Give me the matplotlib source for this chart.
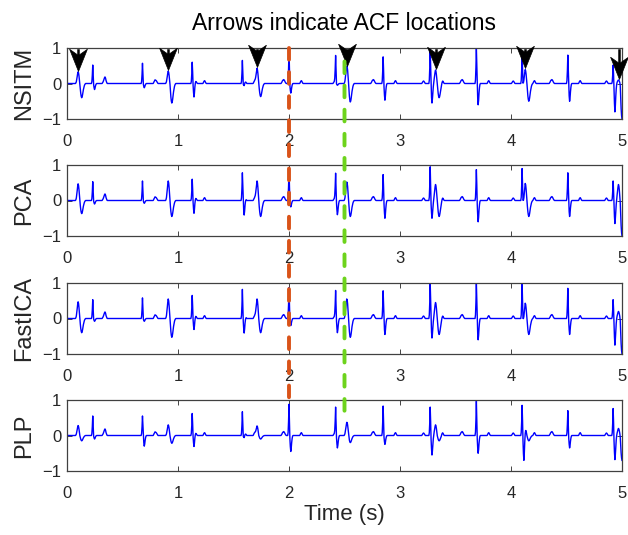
import numpy as np
import matplotlib
matplotlib.use("Agg")
import matplotlib.pyplot as plt
from matplotlib.patches import ConnectionPatch
from matplotlib.path import Path

plt.rcParams['font.family'] = ['Liberation Sans', 'DejaVu Sans']

# ---------------- data ----------------
fs = 250  # samples per second
duration = 5.0

# beat times (s): maternal beats (arrows) and fetal spikes
mother_t = [0.10, 0.91, 1.71, 2.52, 3.32, 4.13, 4.97]
fetal_t = [0.23, 0.68, 1.13, 1.58, 2.00, 2.42, 2.85, 3.27, 3.69, 4.10, 4.51, 4.92]

# hand-drawn beat shapes (peak normalised to +1, trough to -1)
mother_qrs = [0.0, 0.05, 0.15, 0.35, 0.6, 0.85, 1.0, 0.9, 0.65, 0.3, -0.05, -0.4,
              -0.7, -0.9, -1.0, -0.95, -0.8, -0.6, -0.42, -0.28, -0.16, -0.08,
              -0.03, 0.0]
mother_peak_idx = 6
mother_pwave = [0.02, 0.04, 0.06, 0.07, 0.06, 0.04, 0.02]
mother_twave = [0.02, 0.04, 0.07, 0.09, 0.1, 0.11, 0.1, 0.08, 0.05, 0.03, 0.01]
fetal_qrs = [0.0, 0.1, 0.45, 1.0, 0.5, -0.2, -0.7, -1.0, -0.8, -0.45, -0.2, -0.05, 0.0]
fetal_peak_idx = 3
fetal_twave = [0.02, 0.05, 0.07, 0.08, 0.06, 0.03, 0.01]

names = ["NSITM", "PCA", "FastICA", "PLP"]

mother_peak = {
    "NSITM":   [0.33, 0.35, 0.43, 0.47, 0.38, 0.40, 0.10],
    "PCA":     [0.47, 0.55, 0.55, 0.50, 0.45, 0.50, 0.45],
    "FastICA": [0.47, 0.55, 0.55, 0.53, 0.45, 0.45, 0.20],
    "PLP":     [0.28, 0.30, 0.27, 0.35, 0.30, 0.20, 0.20],
}
mother_trough = {
    "NSITM":   [0.40, 0.55, 0.37, 0.52, 0.40, 0.50, 1.00],
    "PCA":     [0.37, 0.45, 0.45, 0.45, 0.45, 0.45, 1.00],
    "FastICA": [0.40, 0.53, 0.40, 0.53, 0.45, 0.45, 1.00],
    "PLP":     [0.15, 0.22, 0.10, 0.20, 0.15, 0.15, 0.70],
}
fetal_peak = {
    "NSITM":   [0.52, 0.57, 0.60, 0.65, 0.92, 0.75, 0.75, 0.95, 1.00, 0.85, 0.80, 0.52],
    "PCA":     [0.53, 0.55, 0.60, 0.78, 0.87, 0.73, 0.73, 0.95, 0.87, 0.90, 0.78, 0.55],
    "FastICA": [0.53, 0.58, 0.65, 0.82, 0.87, 0.75, 0.78, 1.00, 1.00, 1.00, 0.85, 0.53],
    "PLP":     [0.55, 0.55, 0.62, 0.67, 0.88, 0.76, 0.83, 0.80, 0.97, 0.85, 0.70, 0.76],
}
fetal_trough = {
    "NSITM":   [0.17, 0.12, 0.47, 0.10, 0.27, 0.05, 0.47, 0.55, 0.60, 0.05, 0.50, 0.80],
    "PCA":     [0.10, 0.08, 0.45, 0.45, 0.18, 0.40, 0.50, 0.50, 0.60, 0.10, 0.45, 0.65],
    "FastICA": [0.08, 0.08, 0.40, 0.45, 0.20, 0.40, 0.45, 0.55, 0.60, 0.10, 0.45, 0.75],
    "PLP":     [0.10, 0.30, 0.40, 0.10, 0.45, 0.35, 0.25, 0.55, 0.50, 0.77, 0.35, 0.68],
}

red_x = 2.0
green_x = 2.5


def place(sig, shape, start, up, down):
    shape = np.asarray(shape)
    vals = np.where(shape > 0, shape * up, shape * down)
    for k, v in enumerate(vals):
        i = start + k
        if 0 <= i < len(sig):
            sig[i] += v


def build(name):
    n = int(duration * fs) + 1
    sig = np.zeros(n)
    for j, tb in enumerate(mother_t):
        c = int(round(tb * fs))
        place(sig, mother_pwave, c - 30, 1.0, 1.0)
        place(sig, mother_qrs, c - mother_peak_idx, mother_peak[name][j], mother_trough[name][j])
        place(sig, mother_twave, c + 55, 1.0, 1.0)
    for j, tb in enumerate(fetal_t):
        c = int(round(tb * fs))
        place(sig, fetal_qrs, c - fetal_peak_idx, fetal_peak[name][j], fetal_trough[name][j])
        place(sig, fetal_twave, c + 25, 1.0, 1.0)
    return np.arange(n) / fs, sig


# concave arrow head, tip at the origin, body above it
head = Path([(0, 0), (-0.4, 1.0), (0, 0.72), (0.4, 1.0), (0, 0)],
            [Path.MOVETO, Path.LINETO, Path.LINETO, Path.LINETO, Path.CLOSEPOLY])

# ---------------- figure ----------------
fig = plt.figure(figsize=(6.28, 5.35), dpi=100)
W, H = 628, 535
left, width = 67 / W, 555 / W
tops = [48, 165, 283, 400]
ax_h = 71

axes = []
for k, name in enumerate(names):
    ax = fig.add_axes([left, 1 - (tops[k] + ax_h) / H, width, ax_h / H])
    t, s = build(name)
    ax.plot(t, s, color=(0, 0, 1), lw=1.0)
    ax.set_xlim(0, 5)
    ax.set_ylim(-1, 1)
    ax.set_xticks([0, 1, 2, 3, 4, 5])
    ax.set_yticks([-1, 0, 1])
    ax.tick_params(direction='in', top=True, right=True, length=3.5, width=0.6,
                   labelsize=12, colors='#262626', pad=11)
    ax.tick_params(axis='y', pad=4)
    for sp in ax.spines.values():
        sp.set_color('#404040')
        sp.set_linewidth(0.9)
    ax.set_ylabel(name, fontsize=17, color='#262626', labelpad=5)
    axes.append(ax)

axes[0].set_title("Arrows indicate ACF locations", fontsize=16.5, color='#000000', pad=13)
axes[-1].set_xlabel("Time (s)", fontsize=16, color='#262626', labelpad=2)

# arrows at maternal beats
for j, tb in enumerate(mother_t):
    tip = mother_peak["NSITM"][j] + 0.03
    axes[0].plot([tb, tb], [tip + 0.3, 0.93], color='black', lw=1.8, clip_on=False, zorder=5)
    axes[0].plot([tb], [tip], marker=head, ms=32, color='black', mec='black', mew=0.5,
                 clip_on=False, zorder=5)

# dashed vertical markers spanning the panels
red = ConnectionPatch(xyA=(red_x, 1.0), coordsA=axes[0].transData,
                      xyB=(red_x, 0.75), coordsB=axes[3].transData,
                      color='#D95319', lw=2.8, linestyle=(0, (3, 3.2)))
green = ConnectionPatch(xyA=(green_x, 0.62), coordsA=axes[0].transData,
                        xyB=(green_x, 0.45), coordsB=axes[3].transData,
                        color='#6DD31C', lw=2.8, linestyle=(0, (3, 3.2)))
red.set_zorder(10)
green.set_zorder(10)
fig.add_artist(red)
fig.add_artist(green)

fig.savefig("out.png", dpi=100)
